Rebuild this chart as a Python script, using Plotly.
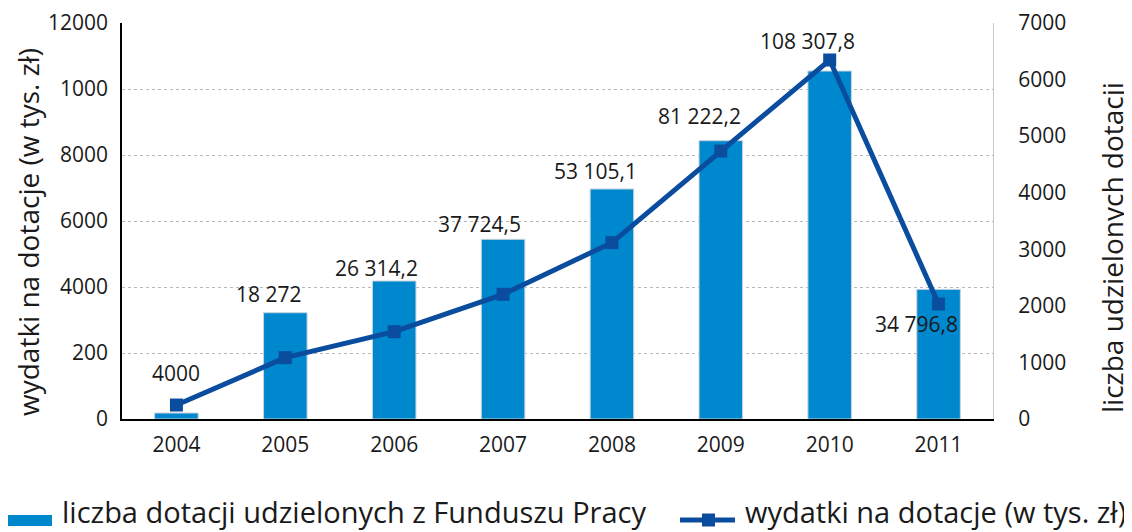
import plotly.graph_objects as go

# ---- data ----
years = ["2004", "2005", "2006", "2007", "2008", "2009", "2010", "2011"]
grants_count = [182, 3221, 4182, 5445, 6970, 8434, 10545, 3929]      # bars, left axis
spending = [247, 1084, 1543, 2204, 3117, 4737, 6346, 2033]            # line, right axis
value_labels = ["4000", "18 272", "26 314,2", "37 724,5", "53 105,1",
                "81 222,2", "108 307,8", "34 796,8"]
left_tickvals = [0, 2000, 4000, 6000, 8000, 10000, 12000]
left_ticktext = ["0", "200", "4000", "6000", "8000", "1000", "12000"]
right_tickvals = [0, 1000, 2000, 3000, 4000, 5000, 6000, 7000]
right_ticktext = ["0", "1000", "2000", "3000", "4000", "5000", "6000", "7000"]

bar_name = "liczba dotacji udzielonych z Funduszu Pracy"
line_name = "wydatki na dotacje (w tys. zł)"
left_title = "wydatki na dotacje (w tys. zł)"
right_title = "liczba udzielonych dotacji"

# label offsets (pixels) relative to bar tops
label_dx = [0, -16, -18, -24, -16, -21, -22, -22]
label_dy = [40, 19, 13, 15, 18, 25, 30, -35]

BAR_COLOR = "#0088CF"
LINE_COLOR = "#0A4D9E"
FONT = "Open Sans"
TXT = "#1a1a1a"

# page body has an 8px default margin
OFF = 8
W, H = 1132 - OFF, 532 - OFF
ML, MR, MT, MB = 122 - OFF, 139, 23 - OFF, 113
PW, PH = W - ML - MR, H - MT - MB


def px(x):
    return (x - OFF - ML) / PW


def py(y):
    return (OFF + H - MB - y) / PH


fig = go.Figure()
fig.add_trace(go.Bar(
    x=years, y=grants_count, name=bar_name, yaxis="y",
    marker=dict(color=BAR_COLOR, line=dict(color="#c9d3dc", width=1)),
    width=0.4, showlegend=False,
))
fig.add_trace(go.Scatter(
    x=years, y=spending, name=line_name, yaxis="y2", mode="lines+markers",
    line=dict(color=LINE_COLOR, width=5),
    marker=dict(symbol="square", size=13, color=LINE_COLOR),
    showlegend=False,
))

annotations = []
for i, (val, lab, dx, dy) in enumerate(zip(grants_count, value_labels, label_dx, label_dy)):
    annotations.append(dict(
        x=i, y=val, xref="x", yref="y", text=lab, showarrow=False,
        xanchor="center", yanchor="middle", xshift=dx, yshift=dy,
        font=dict(family=FONT, size=21, color=TXT),
    ))

# axis titles
annotations.append(dict(
    x=px(28), y=py(232), xref="paper", yref="paper", text=left_title,
    textangle=-90, showarrow=False, xanchor="center", yanchor="middle",
    font=dict(family=FONT, size=28, color=TXT)))
annotations.append(dict(
    x=px(1112), y=py(248), xref="paper", yref="paper", text=right_title,
    textangle=-90, showarrow=False, xanchor="center", yanchor="middle",
    font=dict(family=FONT, size=28, color=TXT)))

# manual legend
shapes = [
    dict(type="rect", xref="paper", yref="paper",
         x0=px(7), x1=px(52), y0=py(526), y1=py(515),
         fillcolor=BAR_COLOR, line=dict(width=0)),
    dict(type="line", xref="paper", yref="paper",
         x0=px(680), x1=px(735), y0=py(520), y1=py(520),
         line=dict(color=LINE_COLOR, width=5)),
    dict(type="rect", xref="paper", yref="paper",
         x0=px(702), x1=px(715), y0=py(526.5), y1=py(513.5),
         fillcolor=LINE_COLOR, line=dict(width=0)),
]
annotations.append(dict(
    x=px(60), y=py(511), xref="paper", yref="paper", text=bar_name,
    showarrow=False, xanchor="left", yanchor="middle",
    font=dict(family=FONT, size=29, color=TXT)))
annotations.append(dict(
    x=px(743), y=py(511), xref="paper", yref="paper", text=line_name,
    showarrow=False, xanchor="left", yanchor="middle",
    font=dict(family=FONT, size=29, color=TXT)))

fig.update_layout(
    width=W, height=H,
    margin=dict(l=ML, r=MR, t=MT, b=MB, autoexpand=False),
    paper_bgcolor="white", plot_bgcolor="white",
    font=dict(family=FONT, color=TXT),
    showlegend=False,
    xaxis=dict(
        type="category", range=[-0.5, 7.5], showgrid=False, zeroline=False,
        showline=True, linecolor="black", linewidth=1.5,
        ticks="", tickfont=dict(family=FONT, size=21, color=TXT),
        ticklabelstandoff=6,
    ),
    yaxis=dict(
        range=[0, 12000], tickvals=left_tickvals, ticktext=left_ticktext,
        showgrid=True, gridcolor="#b8b8b8", griddash="dot", gridwidth=1,
        zeroline=False, showline=True, linecolor="black", linewidth=1.5,
        ticks="", tickfont=dict(family=FONT, size=21, color=TXT),
        ticklabelstandoff=8,
    ),
    yaxis2=dict(
        range=[0, 7000], tickvals=right_tickvals, ticktext=right_ticktext,
        overlaying="y", side="right", showgrid=False, zeroline=False,
        showline=True, linecolor="#c8c8c8", linewidth=1,
        ticks="", tickfont=dict(family=FONT, size=21, color=TXT),
        ticklabelstandoff=20,
    ),
    shapes=shapes,
    annotations=annotations,
)

fig.write_html("out.html")
